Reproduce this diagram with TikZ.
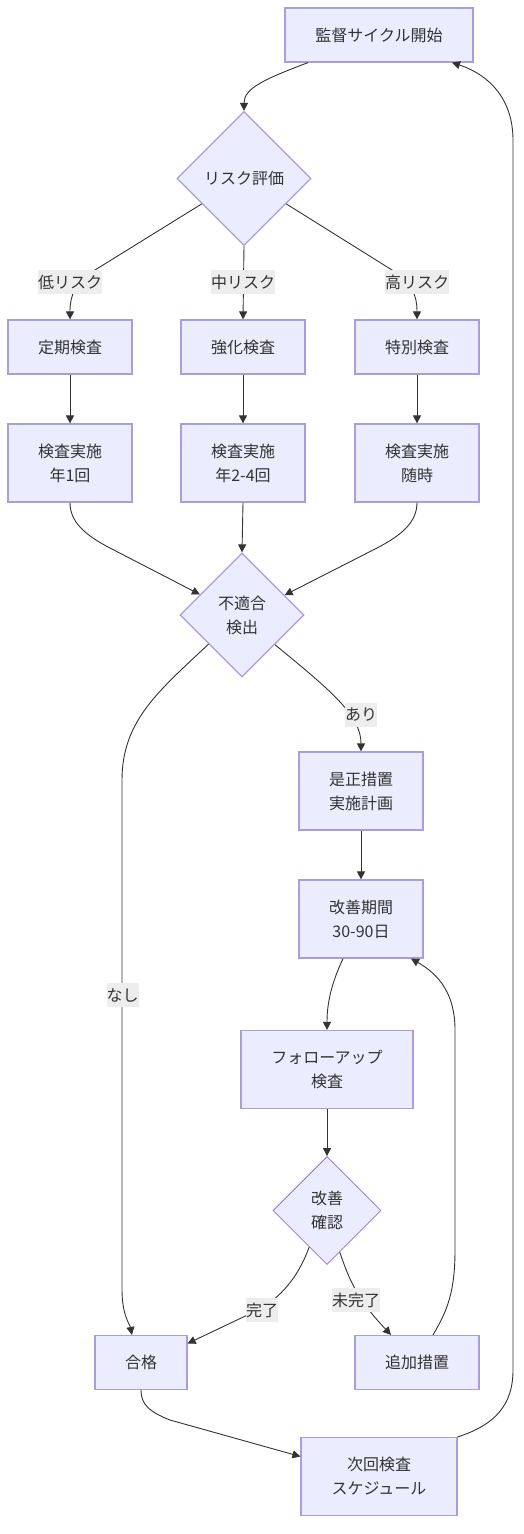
\documentclass[tikz,border=0pt]{standalone}
\usepackage{fontspec}
\setmainfont{Noto Sans CJK JP}
\usetikzlibrary{shapes.geometric,arrows.meta}
\definecolor{nodefill}{HTML}{ECECFF}
\definecolor{nodeline}{HTML}{AB9CDB}
\definecolor{nodelinedark}{HTML}{9370DB}
\definecolor{txt}{HTML}{333333}
\definecolor{lbl}{HTML}{EDEDED}
\begin{document}
\begin{tikzpicture}[x=1pt,y=-1pt,
  txtfont/.style={font=\fontsize{16}{24}\selectfont, text=txt},
  box/.style={draw=nodeline,fill=nodefill,line width=1.2pt,minimum width=124pt,minimum height=54pt,inner sep=0pt,align=center,txtfont},
  dia/.style={diamond,draw=nodeline,fill=nodefill,line width=1.2pt,inner sep=0pt,aspect=1,align=center,txtfont},
  elbl/.style={fill=lbl,inner xsep=0pt,inner ysep=0pt,minimum height=24pt,txtfont},
  conn/.style={draw=txt,line width=0.9pt,-{Triangle[length=8pt,width=8pt]}}]
\useasboundingbox[fill=white] (0,0) rectangle (524,1534);

% nodes
\node[box,minimum width=188pt] (start) at (379,35) {監督サイクル開始};
\node[dia,minimum width=134pt,minimum height=134pt] (risk) at (244,178.5) {リスク評価};
\node[box] (ta) at (70,347) {定期検査};
\node[box] (tb) at (243,347) {強化検査};
\node[box] (tc) at (417,347) {特別検査};
\node[box,minimum height=78pt] (ia) at (70,463) {検査実施\\年1回};
\node[box,minimum height=78pt] (ib) at (243,463) {検査実施\\年2-4回};
\node[box,minimum height=78pt] (ic) at (417,463) {検査実施\\随時};
\node[dia,minimum width=124pt,minimum height=124pt] (ng) at (242,615) {不適合\\検出};
\node[box,minimum height=78pt] (fix) at (361,791) {是正措置\\実施計画};
\node[box,minimum height=78pt] (per) at (361,919) {改善期間\\30-90日};
\node[box,minimum width=172pt,minimum height=78pt] (fu) at (327,1069.5) {フォローアップ\\検査};
\node[dia,draw=nodelinedark,line width=0.8pt,minimum width=108pt,minimum height=108pt] (chk) at (327,1210.5) {改善\\確認};
\node[box,minimum width=92pt] (pass) at (141,1362.5) {合格};
\node[box] (add) at (417,1362.5) {追加措置};
\node[box,minimum width=156pt,minimum height=78pt] (next) at (379,1476.5) {次回検査\\スケジュール};

% connectors
\draw[conn] ([xshift=-71pt]start.south) .. controls (265,79) and (244,88) .. (risk.north);
\draw[conn] (risk.211) -- (95,270) .. controls (75,283) and (70,295) .. (ta.north);
\draw[conn] (risk.south) -- (tb.north);
\draw[conn] (risk.-31) -- (392,270) .. controls (412,283) and (417,295) .. (tc.north);
\draw[conn] (ta.south) -- (ia.north);
\draw[conn] (tb.south) -- (ib.north);
\draw[conn] (tc.south) -- (ic.north);
\draw[conn] (ia.south) .. controls (70,522) and (85,535) .. (110,548) -- (ng.154.5);
\draw[conn] (ib.south) -- (ng.north);
\draw[conn] (ic.south) .. controls (417,522) and (402,535) .. (377,548) -- (ng.25);
\draw[conn] (ng.-42) .. controls (330,690) and (361,715) .. (fix.north);
\draw[conn] (ng.221.5) .. controls (160,690) and (122,720) .. (122,780) -- (122,1290) .. controls (122,1315) and (130,1325) .. ([xshift=-9pt]pass.north);
\draw[conn] (fix.south) -- (per.north);
\draw[conn] ([xshift=-18pt]per.south) .. controls (333,980) and (327,1000) .. (fu.north);
\draw[conn] (fu.south) -- (chk.north);
\draw[conn] (chk.244) .. controls (298,1278) and (280,1298) .. (258,1310) -- ([yshift=19pt]pass.east);
\draw[conn] (chk.287) .. controls (350,1282) and (358,1300) .. ([xshift=-26pt]add.north);
\draw[conn] ([xshift=16pt]add.north) .. controls (448,1310) and (455,1290) .. (455,1250) -- (455,1030) .. controls (455,995) and (440,975) .. ([xshift=50pt]per.south);
\draw[conn] (pass.south) .. controls (141,1405) and (150,1412) .. (170,1420) -- ([yshift=20pt]next.west);
\draw[conn] (next.north east) .. controls (495,1425) and (513,1405) .. (513,1370) -- (513,140) .. controls (513,100) and (490,75) .. ([xshift=73pt]start.south);

% edge labels
\node[elbl] (l1) at (70,282) {低リスク};
\node[elbl] (l2) at (243,282) {中リスク};
\node[elbl] (l3) at (417,282) {高リスク};
\node[elbl] (l4) at (361,715) {あり};
\node[elbl] (l5) at (122.5,995) {なし};
\node[elbl] (l6) at (262,1310) {完了};
\node[elbl] (l7) at (356,1300) {未完了};
\end{tikzpicture}
\end{document}
